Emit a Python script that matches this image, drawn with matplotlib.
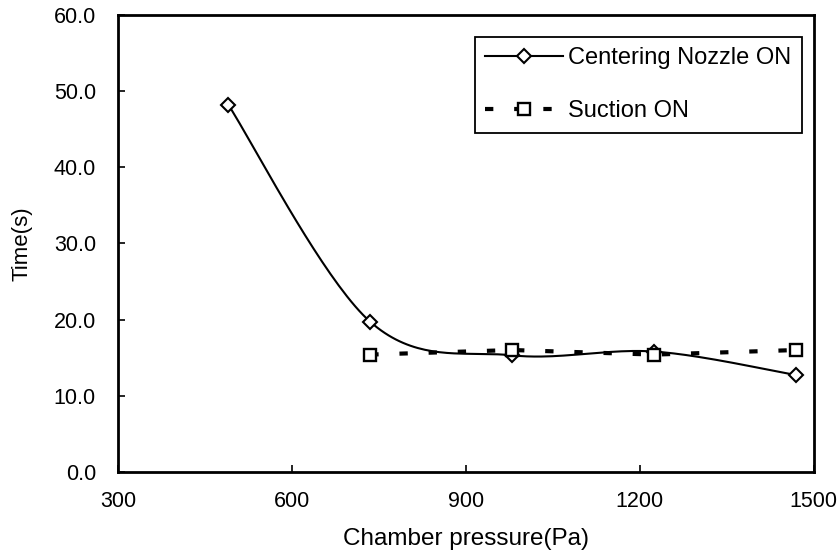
import numpy as np
import matplotlib.pyplot as plt
from matplotlib.ticker import FormatStrFormatter

plt.rcParams['font.family'] = ['Liberation Sans', 'DejaVu Sans']

# data
pressure = [490, 735, 980, 1225, 1470]
nozzle_time = [48.2, 19.7, 15.3, 15.8, 12.7]
suction_pressure = [735, 980, 1225, 1470]
suction_time = [15.4, 16.0, 15.4, 16.0]


def smooth(x, y, n=40):
    # Catmull-Rom smoothing (end points repeated), like a spreadsheet "smoothed line"
    x = np.asarray(x, float)
    y = np.asarray(y, float)
    px = np.concatenate([[x[0]], x, [x[-1]]])
    py = np.concatenate([[y[0]], y, [y[-1]]])
    xs, ys = [], []
    t = np.linspace(0, 1, n)
    for i in range(1, len(px) - 2):
        p0, p1, p2, p3 = px[i - 1], px[i], px[i + 1], px[i + 2]
        q0, q1, q2, q3 = py[i - 1], py[i], py[i + 1], py[i + 2]
        xs.append(0.5 * (2 * p1 + (-p0 + p2) * t + (2 * p0 - 5 * p1 + 4 * p2 - p3) * t**2 + (-p0 + 3 * p1 - 3 * p2 + p3) * t**3))
        ys.append(0.5 * (2 * q1 + (-q0 + q2) * t + (2 * q0 - 5 * q1 + 4 * q2 - q3) * t**2 + (-q0 + 3 * q1 - 3 * q2 + q3) * t**3))
    return np.concatenate(xs), np.concatenate(ys)


fig = plt.figure(figsize=(8.38, 5.5), dpi=100)
ax = fig.add_axes([0.141, 0.142, 0.830, 0.831])

sx, sy = smooth(pressure, nozzle_time)
ax.plot(sx, sy, color='black', lw=1.5)
ax.plot(pressure, nozzle_time, linestyle='none', marker='D', ms=7, mfc='white', mec='black', mew=1.5)
ax.plot([], [], color='black', lw=1.5, marker='D', ms=7, mfc='white', mec='black', mew=1.5,
        label='Centering Nozzle ON')

ax.plot(suction_pressure, suction_time, color='black', lw=3, linestyle=(0, (2, 5)),
        marker='s', ms=8, mfc='white', mec='black', mew=1.7, label='Suction ON')

ax.set_xlim(300, 1500)
ax.set_ylim(0, 60)
ax.set_xticks([300, 600, 900, 1200, 1500])
ax.set_yticks(np.arange(0, 61, 10))
ax.yaxis.set_major_formatter(FormatStrFormatter('%.1f'))
ax.tick_params(direction='in', length=5, width=1.2, labelsize=15.5)
ax.tick_params(axis='y', pad=16)
ax.tick_params(axis='x', pad=14)
for s in ax.spines.values():
    s.set_linewidth(2)

ax.set_xlabel('Chamber pressure(Pa)', fontsize=17.5, labelpad=11)
ax.set_ylabel('Time(s)', fontsize=16, labelpad=15)

leg = ax.legend(loc='upper right', bbox_to_anchor=(0.983, 0.952), fontsize=17, fancybox=False,
                edgecolor='black', framealpha=1, handlelength=3.3, labelspacing=1.3,
                borderpad=0.45, handletextpad=0.2, borderaxespad=0)
leg.get_frame().set_linewidth(1.3)

fig.savefig('out.png', dpi=100)
